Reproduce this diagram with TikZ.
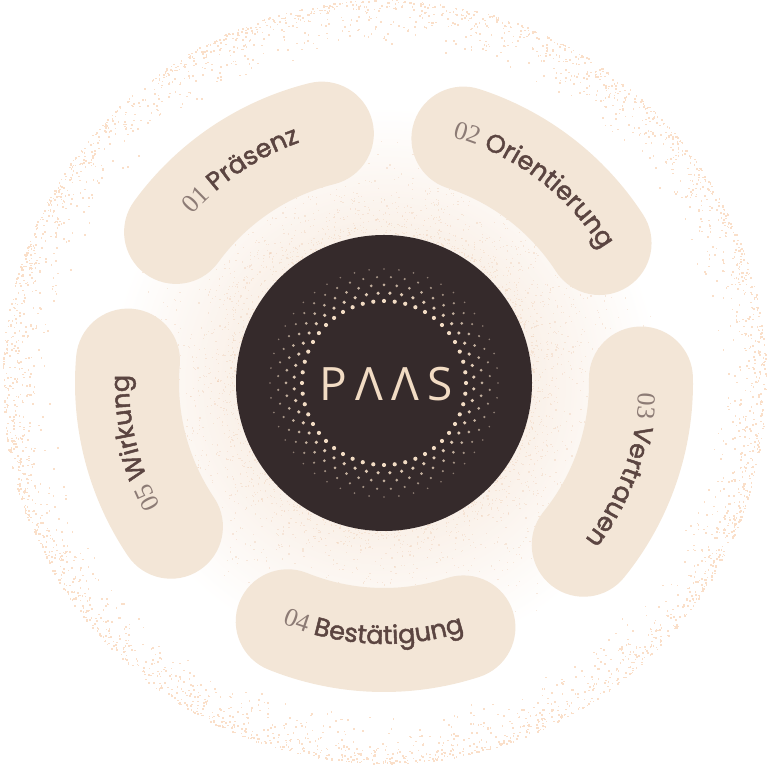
\documentclass[tikz,border=0pt]{standalone}
\usepackage{fontspec}
\usetikzlibrary{decorations.text}
\newfontfamily\labfont{Poppins}[FakeBold=1.8]
\newfontfamily\numfont{Liberation Serif}
\newfontfamily\logofont{Open Sans}[LetterSpace=18]
\definecolor{segc}{HTML}{F3E6D7}
\definecolor{darkc}{HTML}{352A2B}
\definecolor{labc}{HTML}{5B4541}
\definecolor{numc}{HTML}{8C7B75}
\definecolor{logoc}{HTML}{F2DCC4}
\definecolor{ringc}{HTML}{FADFC9}
\definecolor{glowc}{HTML}{FAF1E9}
\definecolor{speckc}{HTML}{F0D2BB}
\newcommand\numstyle{\numfont\fontsize{26}{30}\selectfont\color{numc}}
\newcommand\labstyle{\labfont\fontsize{25.5}{30}\selectfont\color{labc}}
\pgfdeclareradialshading{glowshade}{\pgfpoint{0bp}{0bp}}{color(0bp)=(glowc); color(12.5bp)=(glowc); color(23bp)=(white); color(25bp)=(white); color(50bp)=(white)}
\tikzset{
  seg/.style={draw=segc, line width=104, line cap=round},
  lab/.style={decorate, decoration={text along path, text align=center, text={#1}}},
  ringdot/.style={fill=ringc},
  speck/.style={fill=speckc, opacity=.45},
}
\begin{document}
\begin{tikzpicture}[x=1pt,y=1pt]
\useasboundingbox (0,0) rectangle (768,767);
\begin{scope}[shift={(384,384)}]
  % background glow and grain
  \shade[shading=glowshade] (0,0) circle (300);
  \pgfmathsetseed{3}
  \foreach \i in {1,...,3200}{
    \pgfmathsetmacro\aa{360*rnd}
    \pgfmathsetmacro\rr{382-50*rnd*rnd}
    \path[ringdot] (\aa:\rr) rectangle ++(1.6,1.6);
  }
  \foreach \i in {1,...,2500}{
    \pgfmathsetmacro\aa{360*rnd}
    \pgfmathsetmacro\rr{148+140*rnd*rnd}
    \path[speck] (\aa:\rr) rectangle ++(1.2,1.2);
  }
  % segments
  \draw[seg] (144:257) arc[start angle=144, end angle=104, radius=257];
  \draw[seg] (72:257) arc[start angle=72, end angle=33, radius=257];
  \draw[seg] (1:257) arc[start angle=1, end angle=-39, radius=257];
  \draw[seg] (-112:257) arc[start angle=-112, end angle=-72, radius=257];
  \draw[seg] (214:257) arc[start angle=214, end angle=175, radius=257];
  % labels
  \path[lab={|\numstyle|01 |\labstyle|Präsenz}] (168:255) arc[start angle=168, end angle=80, radius=255];
  \path[lab={|\numstyle|02 |\labstyle|Orientierung}] (97:255) arc[start angle=97, end angle=9, radius=255];
  \path[lab={|\numstyle|03 |\labstyle|Vertrauen}] (24:255) arc[start angle=24, end angle=-64, radius=255];
  \path[lab={|\numstyle|04 |\labstyle|Bestätigung}] (-136.5:261) arc[start angle=-136.5, end angle=-48.5, radius=261];
  \path[lab={|\numstyle|05 |\labstyle|Wirkung}] (237.5:255) arc[start angle=237.5, end angle=149.5, radius=255];
  % core
  \node[circle, fill=darkc, minimum size=296, inner sep=0] (core) at (0,0) {};
  \foreach \k/\rad/\dr/\op in {0/82/2.1/1, 1/90/1.8/0.9, 2/98/1.5/0.75, 3/106/1.2/0.6, 4/114/0.9/0.45}{
    \foreach \j in {0,...,47}{
      \fill[logoc, opacity=\op] ({\j*7.5+\k*3.75}:\rad) circle (\dr);
    }
  }
  \node[anchor=base, text=logoc, inner sep=0, font=\logofont\fontsize{46}{50}\selectfont] (logo) at (2,-18) {PΛΛS};
\end{scope}
\end{tikzpicture}
\end{document}
